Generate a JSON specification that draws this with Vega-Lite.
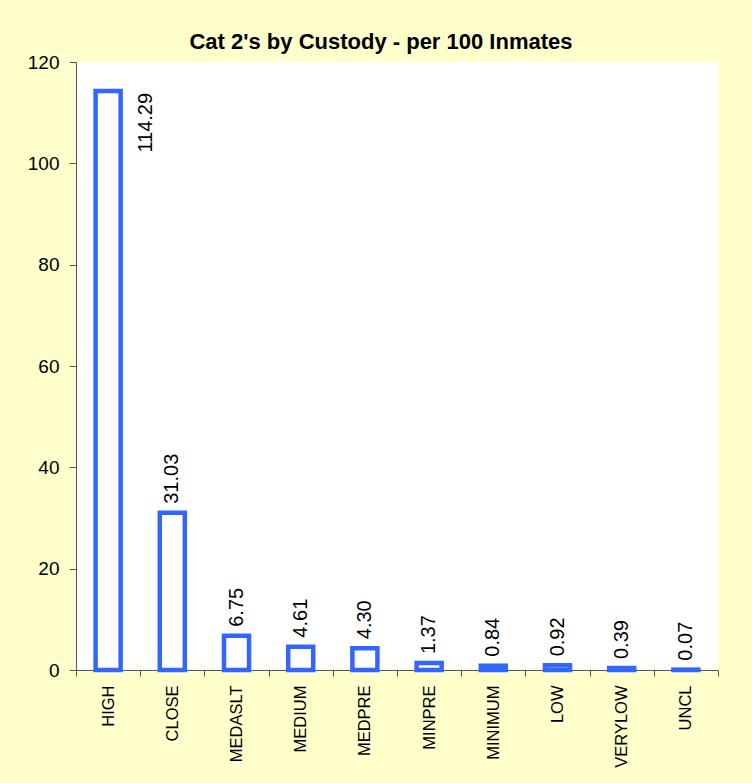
{
  "$schema": "https://vega.github.io/schema/vega-lite/v6.json",
  "width": 642,
  "height": 608,
  "autosize": "none",
  "padding": {"left": 76, "top": 62, "right": 34, "bottom": 113},
  "background": "#FFFFCC",
  "config": {"view": {"fill": "white", "stroke": null}, "font": "Liberation Sans"},
  "title": {"text": "Cat 2's by Custody - per 100 Inmates", "fontSize": 22, "fontWeight": "bold", "font": "Liberation Sans", "color": "black", "anchor": "middle", "dx": -16, "dy": 29, "offset": 11, "baseline": "alphabetic"},
  "data": {"values": [
    {"custody": "HIGH", "value": 114.29},
    {"custody": "CLOSE", "value": 31.03},
    {"custody": "MEDASLT", "value": 6.75},
    {"custody": "MEDIUM", "value": 4.61},
    {"custody": "MEDPRE", "value": 4.30},
    {"custody": "MINPRE", "value": 1.37},
    {"custody": "MINIMUM", "value": 0.84},
    {"custody": "LOW", "value": 0.92},
    {"custody": "VERYLOW", "value": 0.39},
    {"custody": "UNCL", "value": 0.07}
  ]},
  "encoding": {
    "x": {"field": "custody", "type": "nominal", "sort": null,
      "scale": {"paddingInner": 0, "paddingOuter": 0},
      "axis": {"title": null, "labelAngle": -90, "labelFontSize": 16.5, "labelColor": "black", "labelFont": "Liberation Sans", "tickBand": "extent", "tickSize": 6, "labelPadding": 9, "domainColor": "#555", "tickColor": "#555", "labelAlign": "right", "labelBaseline": "middle"}},
    "y": {"field": "value", "type": "quantitative",
      "scale": {"domain": [0, 120], "nice": false},
      "axis": {"values": [0, 20, 40, 60, 80, 100, 120], "title": null, "grid": false, "labelFontSize": 19, "labelColor": "black", "labelFont": "Liberation Sans", "tickColor": "#555", "domainColor": "#555", "tickSize": 7, "labelPadding": 10}}
  },
  "layer": [
    {"mark": {"type": "bar", "fill": "white", "stroke": "#3366FF", "strokeWidth": 4.5, "width": {"band": 0.39}}},
    {"transform": [{"filter": "datum.custody !== 'HIGH'"}],
     "mark": {"type": "text", "angle": 270, "align": "left", "baseline": "middle", "dx": 9, "fontSize": 20, "color": "black", "font": "Liberation Sans"},
     "encoding": {"text": {"field": "value", "type": "quantitative", "format": ".2f"}}},
    {"transform": [{"filter": "datum.custody === 'HIGH'"}],
     "mark": {"type": "text", "angle": 270, "align": "right", "baseline": "middle", "dx": -2, "dy": 38, "fontSize": 20, "color": "black", "font": "Liberation Sans"},
     "encoding": {"text": {"field": "value", "type": "quantitative", "format": ".2f"}}}
  ]
}
